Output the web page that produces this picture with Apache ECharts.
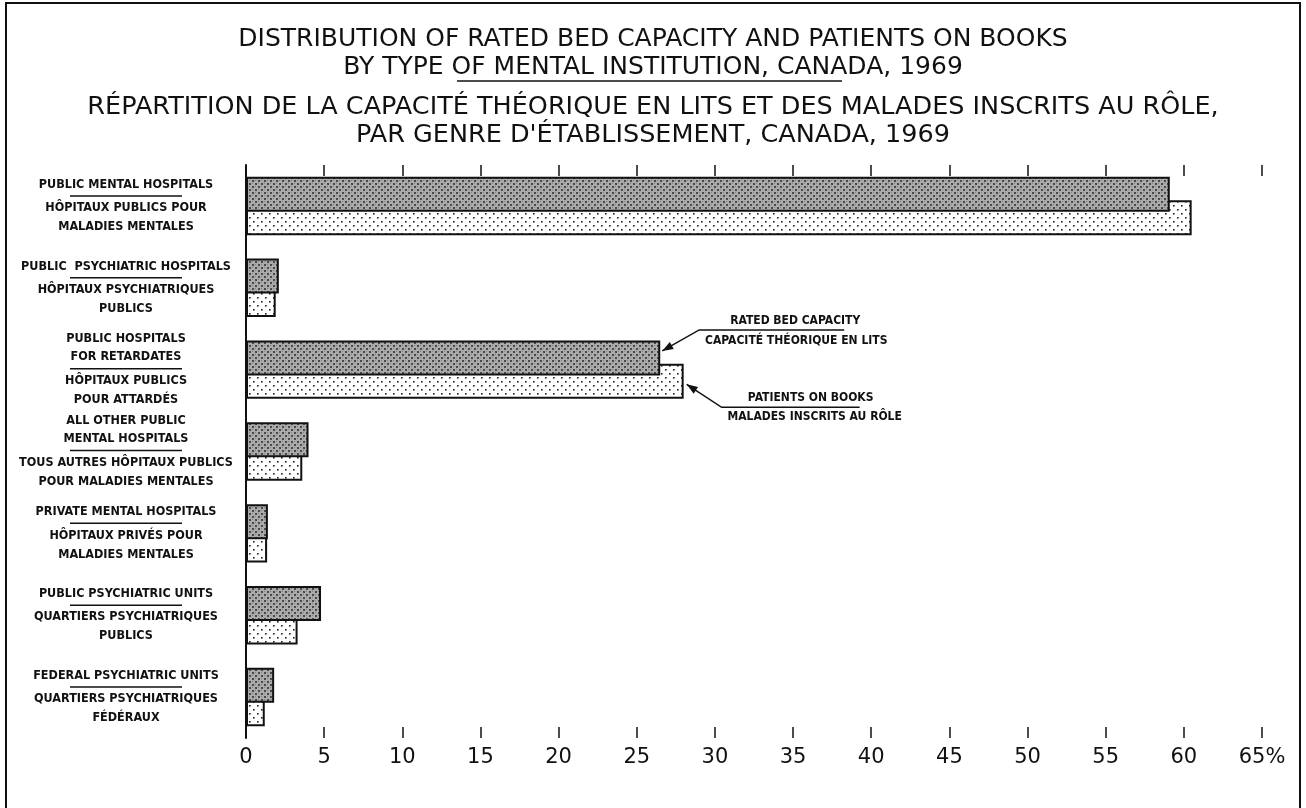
<!DOCTYPE html>
<html>
<head>
<meta charset="utf-8">
<script src="https://cdn.jsdelivr.net/npm/echarts@6/dist/echarts.min.js"></script>
<style>
  html, body { margin: 0; padding: 0; background: #fff; }
  #chart { width: 1306px; height: 808px; }
</style>
</head>
<body>
<div id="chart"></div>
<script>
// categories (English part / French part of each label)
const categoriesEn = [
  'PUBLIC MENTAL HOSPITALS',
  'PUBLIC  PSYCHIATRIC HOSPITALS',
  'PUBLIC HOSPITALS\nFOR RETARDATES',
  'ALL OTHER PUBLIC\nMENTAL HOSPITALS',
  'PRIVATE MENTAL HOSPITALS',
  'PUBLIC PSYCHIATRIC UNITS',
  'FEDERAL PSYCHIATRIC UNITS'
];
const categoriesFr = [
  'HÔPITAUX PUBLICS POUR\nMALADIES MENTALES',
  'HÔPITAUX PSYCHIATRIQUES\nPUBLICS',
  'HÔPITAUX PUBLICS\nPOUR ATTARDÉS',
  'TOUS AUTRES HÔPITAUX PUBLICS\nPOUR MALADIES MENTALES',
  'HÔPITAUX PRIVÉS POUR\nMALADIES MENTALES',
  'QUARTIERS PSYCHIATRIQUES\nPUBLICS',
  'QUARTIERS PSYCHIATRIQUES\nFÉDÉRAUX'
];
// percent of total
const ratedBedCapacity = [59.1, 2.1, 26.5, 4.0, 1.4, 4.8, 1.8];
const patientsOnBooks = [60.5, 1.9, 28.0, 3.6, 1.35, 3.3, 1.2];
const xTicks = [0, 5, 10, 15, 20, 25, 30, 35, 40, 45, 50, 55, 60, 65];

const FONT_LABEL = '"DejaVu Sans Condensed", "Liberation Sans Narrow", sans-serif';
const FONT_TITLE = '"DejaVu Sans", sans-serif';

function makeGrayPattern() {
  const c = document.createElement('canvas');
  c.width = 6; c.height = 6;
  const g = c.getContext('2d');
  g.fillStyle = '#ababab';
  g.fillRect(0, 0, 6, 6);
  g.fillStyle = '#4a4a4a';
  g.fillRect(0, 0, 2, 2);
  g.fillRect(3, 3, 2, 2);
  g.fillStyle = '#808080';
  g.fillRect(3, 0, 1, 1);
  g.fillRect(0, 3, 1, 1);
  return c;
}

function makeDotPattern() {
  const c = document.createElement('canvas');
  c.width = 8; c.height = 8;
  const g = c.getContext('2d');
  g.fillStyle = '#fff';
  g.fillRect(0, 0, 8, 8);
  g.fillStyle = '#222';
  g.fillRect(1, 1, 1.6, 1.6);
  g.fillRect(5, 5, 1.6, 1.6);
  return c;
}

const chart = echarts.init(document.getElementById('chart'));

function lineRows(text, style) {
  return text.split('\n').map(t => '{' + style + '|' + t + '}').join('\n');
}

const BAR_W = 35;
const OVERLAP = 0.33;

const option = {
  animation: false,
  backgroundColor: '#fff',
  title: [
    {
      text: 'DISTRIBUTION OF RATED BED CAPACITY AND PATIENTS ON BOOKS\nBY TYPE OF MENTAL INSTITUTION, CANADA, 1969',
      left: 'center',
      top: 20,
      textStyle: { fontFamily: FONT_TITLE, fontSize: 25, fontWeight: 'normal', color: '#111', lineHeight: 28 }
    },
    {
      text: 'RÉPARTITION DE LA CAPACITÉ THÉORIQUE EN LITS ET DES MALADES INSCRITS AU RÔLE,\nPAR GENRE D\'ÉTABLISSEMENT, CANADA, 1969',
      left: 'center',
      top: 88,
      textStyle: { fontFamily: FONT_TITLE, fontSize: 25.5, fontWeight: 'normal', color: '#111', lineHeight: 28 }
    }
  ],
  grid: { left: 246, right: 44, top: 165, bottom: 70 },
  xAxis: [
    {
      type: 'value',
      position: 'bottom',
      min: 0,
      max: 65,
      interval: 5,
      splitLine: { show: false },
      axisLine: { show: false },
      axisTick: { show: true, inside: true, length: 11, lineStyle: { color: '#111', width: 1.5 } },
      axisLabel: {
        margin: 9,
        fontFamily: FONT_TITLE,
        fontSize: 21,
        color: '#111',
        formatter: v => (v === 65 ? '65%' : String(v))
      }
    },
    {
      type: 'value',
      position: 'top',
      min: 0,
      max: 65,
      interval: 5,
      splitLine: { show: false },
      axisLine: { show: false },
      axisTick: { show: true, inside: true, length: 11, lineStyle: { color: '#111', width: 1.5 } },
      axisLabel: { show: false }
    }
  ],
  yAxis: {
    type: 'category',
    inverse: true,
    data: categoriesEn,
    axisLine: { show: true, onZero: false, lineStyle: { color: '#111', width: 2 } },
    axisTick: { show: false },
    axisLabel: {
      align: 'center',
      margin: 120,
      interval: 0,
      formatter: (v, i) => lineRows(categoriesEn[i], 'en') + '\n{rule|}\n' + lineRows(categoriesFr[i], 'fr'),
      rich: {
        en: { fontFamily: FONT_LABEL, fontWeight: 'bold', fontSize: 12.5, color: '#111', lineHeight: 18, align: 'center' },
        rule: { width: 112, height: 1.5, lineHeight: 5, backgroundColor: '#111', align: 'center' },
        fr: { fontFamily: FONT_LABEL, fontWeight: 'bold', fontSize: 12.5, color: '#111', lineHeight: 19, align: 'center' }
      }
    }
  },
  series: [
    {
      name: 'RATED BED CAPACITY',
      type: 'bar',
      xAxisIndex: 0,
      data: ratedBedCapacity,
      barWidth: BAR_W,
      barGap: '-' + Math.round(OVERLAP * 100) + '%',
      z: 3,
      itemStyle: {
        color: { image: makeGrayPattern(), repeat: 'repeat' },
        borderColor: '#111',
        borderWidth: 2
      }
    },
    {
      name: 'PATIENTS ON BOOKS',
      type: 'bar',
      xAxisIndex: 0,
      data: patientsOnBooks,
      barWidth: BAR_W,
      z: 2,
      itemStyle: {
        color: { image: makeDotPattern(), repeat: 'repeat' },
        borderColor: '#111',
        borderWidth: 2
      }
    }
  ]
};

chart.setOption(option);

// annotations: pointer arrows to the retardates bars, placed from the axis scale
function arrowHead(x1, y1, x2, y2) {
  const ang = Math.atan2(y2 - y1, x2 - x1);
  const len = 11, half = 4;
  const bx = x2 - len * Math.cos(ang), by = y2 - len * Math.sin(ang);
  return [
    [x2, y2],
    [bx + half * Math.sin(ang), by - half * Math.cos(ang)],
    [bx - half * Math.sin(ang), by + half * Math.cos(ang)]
  ];
}

function addAnnotations() {
  const idx = 2;
  const center = chart.convertToPixel({ yAxisIndex: 0 }, idx);
  const shift = BAR_W * (1 - OVERLAP) / 2;
  const ratedX = chart.convertToPixel({ xAxisIndex: 0 }, ratedBedCapacity[idx]);
  const patX = chart.convertToPixel({ xAxisIndex: 0 }, patientsOnBooks[idx]);
  const ratedTip = [ratedX + 2, center - shift - 7];
  const patTip = [patX + 3, center + shift + 3];

  const rStart = [ratedX + 39, ratedTip[1] - 21];
  const pStart = [patX + 38, patTip[1] + 23];

  const labelStyle = { fontFamily: FONT_LABEL, fontWeight: 'bold', fontSize: 12, fill: '#111' };

  const els = [
    { type: 'polyline', shape: { points: [ratedTip, rStart, [rStart[0] + 145, rStart[1]]] }, style: { stroke: '#111', lineWidth: 1.5, fill: null } },
    { type: 'polygon', shape: { points: arrowHead(rStart[0], rStart[1], ratedTip[0], ratedTip[1]) }, style: { fill: '#111' } },
    { type: 'text', x: rStart[0] + 96, y: rStart[1] - 3, style: Object.assign({ text: 'RATED BED CAPACITY', align: 'center', verticalAlign: 'bottom' }, labelStyle) },
    { type: 'text', x: rStart[0] + 97, y: rStart[1] + 5, style: Object.assign({ text: 'CAPACITÉ THÉORIQUE EN LITS', align: 'center', verticalAlign: 'top' }, labelStyle) },
    { type: 'polyline', shape: { points: [patTip, pStart, [pStart[0] + 138, pStart[1]]] }, style: { stroke: '#111', lineWidth: 1.5, fill: null } },
    { type: 'polygon', shape: { points: arrowHead(pStart[0], pStart[1], patTip[0], patTip[1]) }, style: { fill: '#111' } },
    { type: 'text', x: pStart[0] + 89, y: pStart[1] - 3, style: Object.assign({ text: 'PATIENTS ON BOOKS', align: 'center', verticalAlign: 'bottom' }, labelStyle) },
    { type: 'text', x: pStart[0] + 93, y: pStart[1] + 4, style: Object.assign({ text: 'MALADES INSCRITS AU RÔLE', align: 'center', verticalAlign: 'top' }, labelStyle) },
    // separator under the English title
    { type: 'line', shape: { x1: 457, y1: 81, x2: 842, y2: 81 }, style: { stroke: '#111', lineWidth: 1.5 } },
    // page frame
    { type: 'rect', shape: { x: 6, y: 3, width: 1294, height: 820 }, style: { stroke: '#111', lineWidth: 2, fill: null }, silent: true }
  ];
  chart.setOption({ graphic: els });
}

addAnnotations();
</script>
</body>
</html>
